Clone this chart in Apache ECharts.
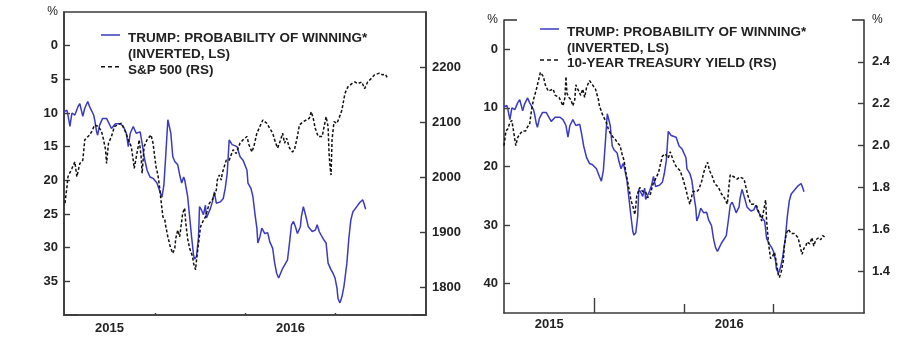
<!DOCTYPE html>
<html>
<head>
<meta charset="utf-8">
<script src="https://cdn.jsdelivr.net/npm/echarts@6/dist/echarts.min.js"></script>
<style>
  html, body { margin: 0; padding: 0; background: #fff; }
  #chart { width: 904px; height: 339px; }
</style>
</head>
<body>
<div id="chart"></div>
<script>
// Trump probability of winning (%), shown inverted
const trumpDates = ['2015-10-01','2015-10-04','2015-10-05','2015-10-07','2015-10-09','2015-10-12','2015-10-15','2015-10-17','2015-10-20','2015-10-22','2015-10-25','2015-10-27','2015-10-31',
  '2015-11-01','2015-11-03','2015-11-04','2015-11-06','2015-11-09','2015-11-13','2015-11-18','2015-11-22','2015-11-27','2015-11-30',
  '2015-12-03','2015-12-05','2015-12-07','2015-12-10','2015-12-13','2015-12-17','2015-12-19','2015-12-21','2015-12-24','2015-12-27','2015-12-30',
  '2016-01-03','2016-01-06','2016-01-08','2016-01-10','2016-01-12','2016-01-14','2016-01-17','2016-01-19','2016-01-21','2016-01-24','2016-01-26','2016-01-28','2016-01-30','2016-01-31',
  '2016-02-03','2016-02-05','2016-02-07','2016-02-09','2016-02-10','2016-02-12','2016-02-14','2016-02-15','2016-02-17','2016-02-19','2016-02-21','2016-02-22','2016-02-24','2016-02-26','2016-02-28',
  '2016-03-01','2016-03-03','2016-03-07','2016-03-10','2016-03-12','2016-03-14','2016-03-16','2016-03-19','2016-03-21','2016-03-24','2016-03-27','2016-03-30',
  '2016-04-03','2016-04-04','2016-04-07','2016-04-09','2016-04-11','2016-04-13','2016-04-14','2016-04-16','2016-04-18','2016-04-21','2016-04-24','2016-04-26','2016-04-29',
  '2016-05-01','2016-05-03','2016-05-05','2016-05-07','2016-05-09','2016-05-11','2016-05-14','2016-05-16','2016-05-18','2016-05-20','2016-05-22','2016-05-24','2016-05-27','2016-05-28','2016-05-30',
  '2016-06-02','2016-06-04','2016-06-08','2016-06-11','2016-06-13','2016-06-15','2016-06-18','2016-06-20','2016-06-22','2016-06-24','2016-06-27','2016-06-29',
  '2016-07-01','2016-07-03','2016-07-04','2016-07-06','2016-07-08','2016-07-10','2016-07-13','2016-07-15','2016-07-17','2016-07-19','2016-07-23','2016-07-26','2016-07-29','2016-07-30',
  '2016-08-01'];
const trumpVals = [9.8,9.6,10.3,12.0,10.0,10.3,9.1,8.6,10.5,9.3,8.3,9.1,10.3,
  11.0,12.8,13.3,11.8,10.8,10.8,12.3,11.6,11.6,12.0,
  13.0,15.0,13.0,12.0,13.0,12.8,14.5,16.5,18.5,19.5,19.7,
  20.4,21.7,22.5,20.7,16.0,11.0,13.0,16.5,17.2,17.7,19.2,20.4,19.5,19.9,
  22.4,25.4,28.4,31.1,31.7,31.3,28.4,23.9,24.4,25.1,23.7,25.6,24.9,24.2,23.2,
  21.7,23.4,23.2,22.7,21.2,19.0,14.0,14.7,14.5,15.0,16.5,17.0,
  18.5,20.4,21.2,22.4,24.9,27.1,29.3,28.4,27.1,27.9,27.8,29.1,30.1,
  32.3,33.8,34.5,33.8,33.1,33.3,31.8,29.3,26.6,26.1,26.9,27.9,26.9,25.4,23.9,
  25.6,26.9,27.6,27.4,26.6,27.6,28.4,28.9,29.3,32.3,33.3,33.8,
  34.5,36.0,37.5,38.2,37.3,35.8,32.3,28.6,25.9,24.7,23.9,23.3,22.9,23.3,
  24.3];

// S&P 500 index level
const spxDates = ['2015-10-02','2015-10-04','2015-10-05','2015-10-09','2015-10-12','2015-10-14','2015-10-17','2015-10-20','2015-10-22','2015-10-24','2015-10-27','2015-10-29',
  '2015-11-01','2015-11-05','2015-11-08','2015-11-10','2015-11-12','2015-11-13','2015-11-15','2015-11-18','2015-11-21','2015-11-24','2015-11-28','2015-11-30',
  '2015-12-02','2015-12-05','2015-12-08','2015-12-10','2015-12-11','2015-12-15','2015-12-16','2015-12-18','2015-12-19','2015-12-21','2015-12-24','2015-12-28','2015-12-30',
  '2016-01-02','2016-01-04','2016-01-06','2016-01-07','2016-01-09','2016-01-11','2016-01-12','2016-01-14','2016-01-16','2016-01-17','2016-01-19','2016-01-21','2016-01-22','2016-01-24','2016-01-26','2016-01-29','2016-01-31',
  '2016-02-01','2016-02-03','2016-02-05','2016-02-08','2016-02-09','2016-02-11','2016-02-12','2016-02-14','2016-02-16','2016-02-19','2016-02-21','2016-02-25','2016-02-28',
  '2016-03-03','2016-03-04','2016-03-06','2016-03-08','2016-03-09','2016-03-11','2016-03-13','2016-03-16','2016-03-20','2016-03-23','2016-03-27','2016-03-30',
  '2016-04-03','2016-04-05','2016-04-08','2016-04-10','2016-04-13','2016-04-16','2016-04-19','2016-04-23','2016-04-26','2016-04-29',
  '2016-05-02','2016-05-04','2016-05-07','2016-05-09','2016-05-11','2016-05-13','2016-05-16','2016-05-19','2016-05-21','2016-05-24','2016-05-26','2016-05-30',
  '2016-06-02','2016-06-05','2016-06-07','2016-06-09','2016-06-11','2016-06-14','2016-06-16','2016-06-18','2016-06-20','2016-06-22','2016-06-24','2016-06-25','2016-06-26','2016-06-27','2016-06-28','2016-06-30',
  '2016-07-03','2016-07-05','2016-07-08','2016-07-11','2016-07-14','2016-07-18','2016-07-21','2016-07-24','2016-07-28','2016-07-31',
  '2016-08-03','2016-08-07','2016-08-10','2016-08-12','2016-08-15','2016-08-18','2016-08-21','2016-08-23'];
const spxVals = [1953,1983,2001,2016,2028,2001,2025,2031,2068,2071,2077,2083,
  2095,2092,2083,2068,2050,2025,2062,2074,2092,2095,2098,2101,
  2083,2068,2056,2031,2016,2056,2068,2037,2007,2056,2068,2077,2062,
  2019,2004,1977,1959,1928,1922,1910,1892,1877,1871,1862,1871,1889,1904,1892,1935,1944,
  1919,1889,1871,1856,1844,1832,1850,1880,1910,1922,1928,1953,1959,
  1977,1995,2004,1995,2007,2019,2031,2031,2050,2043,2062,2068,
  2074,2059,2046,2056,2080,2092,2104,2098,2089,2080,
  2062,2053,2068,2080,2062,2071,2053,2046,2050,2074,2095,2101,
  2104,2107,2119,2107,2089,2074,2077,2074,2092,2110,2092,2043,2019,2004,2068,2101,
  2098,2107,2122,2152,2164,2170,2173,2170,2173,2161,
  2173,2180,2186,2183,2189,2186,2187,2180];

// 10-year Treasury yield (%)
const ustDates = ['2015-10-01','2015-10-03','2015-10-05','2015-10-07','2015-10-09','2015-10-12','2015-10-13','2015-10-15','2015-10-18','2015-10-20','2015-10-23','2015-10-25','2015-10-27','2015-10-29','2015-10-31',
  '2015-11-03','2015-11-05','2015-11-07','2015-11-10','2015-11-12','2015-11-15','2015-11-17','2015-11-20','2015-11-22','2015-11-26','2015-11-28','2015-11-30',
  '2015-12-02','2015-12-03','2015-12-04','2015-12-06','2015-12-08','2015-12-10','2015-12-12','2015-12-13','2015-12-15','2015-12-18','2015-12-20','2015-12-22','2015-12-24','2015-12-27','2015-12-29','2015-12-30',
  '2016-01-02','2016-01-05','2016-01-06','2016-01-09','2016-01-11','2016-01-13','2016-01-15','2016-01-17','2016-01-20','2016-01-22','2016-01-25','2016-01-27','2016-01-29','2016-01-31',
  '2016-02-01','2016-02-02','2016-02-04','2016-02-06','2016-02-07','2016-02-09','2016-02-11','2016-02-13','2016-02-16','2016-02-19','2016-02-22','2016-02-24','2016-02-27','2016-02-29',
  '2016-03-03','2016-03-06','2016-03-08','2016-03-10','2016-03-13','2016-03-16','2016-03-18','2016-03-21','2016-03-24','2016-03-26','2016-03-28','2016-03-31',
  '2016-04-03','2016-04-05','2016-04-07','2016-04-08','2016-04-10','2016-04-14','2016-04-16','2016-04-19','2016-04-21','2016-04-23','2016-04-25','2016-04-27','2016-04-30',
  '2016-05-02','2016-05-06','2016-05-09','2016-05-12','2016-05-15','2016-05-17','2016-05-18','2016-05-22','2016-05-25','2016-05-28',
  '2016-06-01','2016-06-03','2016-06-05','2016-06-08','2016-06-11','2016-06-14','2016-06-17','2016-06-19','2016-06-21','2016-06-23','2016-06-24','2016-06-26','2016-06-28','2016-06-30',
  '2016-07-02','2016-07-04','2016-07-06','2016-07-07','2016-07-09','2016-07-11','2016-07-12','2016-07-14','2016-07-16','2016-07-19','2016-07-22','2016-07-26','2016-07-28','2016-07-30',
  '2016-08-01','2016-08-03','2016-08-04','2016-08-07','2016-08-09','2016-08-11','2016-08-13','2016-08-16','2016-08-18','2016-08-20','2016-08-23'];
const ustVals = [2.00,2.07,2.08,2.11,2.12,2.03,2.00,2.04,2.06,2.07,2.07,2.09,2.10,2.17,2.22,
  2.27,2.31,2.35,2.33,2.29,2.26,2.26,2.27,2.24,2.23,2.21,2.19,
  2.23,2.33,2.25,2.23,2.22,2.19,2.22,2.29,2.27,2.24,2.27,2.23,2.28,2.31,2.31,2.29,
  2.27,2.22,2.19,2.15,2.13,2.11,2.08,2.06,2.04,2.03,2.01,2.00,1.96,1.93,
  1.90,1.87,1.82,1.77,1.74,1.71,1.67,1.76,1.80,1.78,1.78,1.75,1.77,1.81,
  1.84,1.87,1.91,1.95,1.96,1.94,1.97,1.93,1.90,1.90,1.88,1.84,
  1.79,1.75,1.72,1.74,1.78,1.78,1.79,1.83,1.87,1.90,1.92,1.88,1.85,
  1.82,1.80,1.77,1.75,1.72,1.82,1.86,1.85,1.84,1.85,
  1.84,1.80,1.76,1.72,1.72,1.71,1.67,1.64,1.69,1.74,1.64,1.53,1.46,1.47,
  1.49,1.44,1.38,1.37,1.40,1.45,1.52,1.58,1.60,1.58,1.58,1.56,1.52,1.48,
  1.51,1.52,1.54,1.53,1.56,1.52,1.55,1.56,1.55,1.57,1.56];

// Axis label sets
const leftPctLabels = [-5, 0, 5, 10, 15, 20, 25, 30, 35];
const spxLabels = [1800, 1900, 2000, 2100, 2200];
const rightPctLabels = [-5, 0, 10, 20, 30, 40];
const ustLabels = [1.4, 1.6, 1.8, 2.0, 2.2, 2.4, 2.6];

const TRUMP_NAME = 'TRUMP: PROBABILITY OF WINNING*';
const SPX_NAME = 'S&P 500 (RS)';
const UST_NAME = '10-YEAR TREASURY YIELD (RS)';

// Dates are plotted as local-time millisecond stamps on a numeric axis
const ts = (y, m, d) => new Date(y, m - 1, d).getTime();
const parseDay = s => { const p = s.split('-').map(Number); return ts(p[0], p[1], p[2]); };
const pair = (dates, vals) => dates.map((d, i) => [parseDay(d), vals[i]]);

const X_MIN = ts(2015, 10, 1), X_MAX = ts(2016, 10, 1);
const yearLabelPos = [ts(2015, 11, 16), ts(2016, 5, 17)];
const quarterTicks = [ts(2016, 1, 1), ts(2016, 4, 1), ts(2016, 7, 1)];

const FONT = 'Arial, "Liberation Sans", Helvetica, sans-serif';
const AXIS_COLOR = '#3c3c3c';
const TEXT_COLOR = '#222';
const BLUE = '#3a3ac2';

// Legend keys: the stroke sits at the top of the key box so it lines up with the first text line
const ICON_SOLID = 'path://M0,0H19V1.5H0Z M18.99,23.99H19V24H18.99Z';
const ICON_DASHED = 'path://M0,0H4V1.5H0Z M7,0H11V1.5H7Z M14,0H18V1.5H14Z M18.99,8.49H19V8.5H18.99Z';

const labelStyle = { color: TEXT_COLOR, fontFamily: FONT, fontWeight: 'bold', fontSize: 13 };
const pctRich = { p: { fontFamily: FONT, fontSize: 12, color: TEXT_COLOR, fontWeight: 'normal' } };
const axisLine = { show: true, onZero: false, lineStyle: { color: AXIS_COLOR, width: 1.6 } };

function xAxisFor(grid, tickVals, tickLen, showLine, showLabel, margin) {
  return {
    type: 'value', gridIndex: grid, position: 'bottom', min: X_MIN, max: X_MAX, scale: true,
    axisLine: Object.assign({}, axisLine, { show: showLine }),
    axisTick: { show: true, inside: true, length: tickLen, customValues: tickVals,
      lineStyle: { color: AXIS_COLOR, width: 1.4 } },
    axisLabel: Object.assign({ show: showLabel, margin: margin, customValues: yearLabelPos,
      formatter: v => String(new Date(v).getFullYear()) }, labelStyle),
    splitLine: { show: false }, minorTick: { show: false }
  };
}

function yAxisFor(opts) {
  return Object.assign({
    type: 'value',
    axisLine: axisLine,
    axisTick: { show: true, inside: true, length: 6, lineStyle: { color: AXIS_COLOR, width: 1.4 } },
    splitLine: { show: false }
  }, opts);
}

function legendFor(name, left, top, twoLine) {
  return {
    data: [name], left: left, top: top, padding: 0, orient: 'vertical',
    itemWidth: 19, itemHeight: twoLine ? 24 : 8.5, selectedMode: false,
    icon: twoLine ? ICON_SOLID : ICON_DASHED,
    formatter: twoLine ? (n => n + '\n(INVERTED, LS)') : (n => n),
    textStyle: { color: TEXT_COLOR, fontFamily: FONT, fontWeight: 'bold', fontSize: 13.5,
      lineHeight: 15.5, padding: [0, 0, 0, 3] }
  };
}

const chart = echarts.init(document.getElementById('chart'), null, { renderer: 'canvas' });

chart.setOption({
  animation: false,
  backgroundColor: '#fff',
  grid: [
    { left: 64, top: 12, width: 362, height: 303, show: true, borderColor: AXIS_COLOR, borderWidth: 1.6, backgroundColor: 'transparent' },
    { left: 504, top: 20, width: 360, height: 293 }
  ],
  legend: [
    legendFor(TRUMP_NAME, 101, 30.75, true),
    legendFor(SPX_NAME, 101, 62.45, false),
    legendFor(TRUMP_NAME, 540, 24.75, true),
    legendFor(UST_NAME, 540, 55.75, false)
  ],
  xAxis: [
    xAxisFor(0, quarterTicks, 2, true, true, 6.5),
    xAxisFor(1, [quarterTicks[0]], 15, true, true, 5),
    xAxisFor(1, quarterTicks.slice(1), 9, false, false, 5)
  ],
  yAxis: [
    // left panel, left scale (inverted %)
    yAxisFor({ gridIndex: 0, position: 'left', inverse: true, min: -5, max: 40, interval: 5,
      axisTick: { show: true, inside: true, length: 6, customValues: leftPctLabels.slice(1), lineStyle: { color: AXIS_COLOR, width: 1.4 } },
      axisLabel: Object.assign({ margin: 6, customValues: leftPctLabels, rich: pctRich,
        formatter: v => v === -5 ? '{p|%}' : String(v) }, labelStyle) }),
    // left panel, right scale (S&P 500)
    yAxisFor({ gridIndex: 0, position: 'right', min: 1750, max: 2300, interval: 50,
      axisTick: { show: true, inside: true, length: 6, customValues: spxLabels, lineStyle: { color: AXIS_COLOR, width: 1.4 } },
      axisLabel: Object.assign({ margin: 6, customValues: spxLabels, formatter: v => String(v) }, labelStyle) }),
    // corner ticks at the foot of the left panel
    yAxisFor({ gridIndex: 0, position: 'left', inverse: true, min: -5, max: 40, axisLine: { show: false, onZero: false },
      axisTick: { show: true, inside: true, length: 14, customValues: [40], lineStyle: { color: AXIS_COLOR, width: 1.6 } },
      axisLabel: { show: false } }),
    yAxisFor({ gridIndex: 0, position: 'right', min: 1750, max: 2300, axisLine: { show: false, onZero: false },
      axisTick: { show: true, inside: true, length: 14, customValues: [1750], lineStyle: { color: AXIS_COLOR, width: 1.6 } },
      axisLabel: { show: false } }),
    // right panel, left scale (inverted %)
    yAxisFor({ gridIndex: 1, position: 'left', inverse: true, min: -5, max: 45, interval: 5,
      axisTick: { show: true, inside: true, length: 6, customValues: rightPctLabels.slice(1), lineStyle: { color: AXIS_COLOR, width: 1.4 } },
      axisLabel: Object.assign({ margin: 6, customValues: rightPctLabels, rich: pctRich,
        formatter: v => v === -5 ? '{p|%}' : String(v) }, labelStyle) }),
    // right panel, right scale (10-year yield)
    yAxisFor({ gridIndex: 1, position: 'right', min: 1.2, max: 2.6, interval: 0.2,
      axisTick: { show: true, inside: true, length: 6, customValues: ustLabels.slice(0, -1), lineStyle: { color: AXIS_COLOR, width: 1.4 } },
      axisLabel: Object.assign({ margin: 8, customValues: ustLabels, rich: pctRich,
        formatter: v => Math.abs(v - 2.6) < 1e-9 ? '{p|%}' : v.toFixed(1) }, labelStyle) }),
    // top ticks of the right panel
    yAxisFor({ gridIndex: 1, position: 'left', inverse: true, min: -5, max: 45, axisLine: { show: false, onZero: false },
      axisTick: { show: true, inside: true, length: 13, customValues: [-5], lineStyle: { color: AXIS_COLOR, width: 1.6 } },
      axisLabel: { show: false } }),
    yAxisFor({ gridIndex: 1, position: 'right', min: 1.2, max: 2.6, axisLine: { show: false, onZero: false },
      axisTick: { show: true, inside: true, length: 12, customValues: [2.6], lineStyle: { color: AXIS_COLOR, width: 1.6 } },
      axisLabel: { show: false } })
  ],
  series: [
    { name: TRUMP_NAME, type: 'line', xAxisIndex: 0, yAxisIndex: 0, data: pair(trumpDates, trumpVals),
      symbol: 'none', lineStyle: { color: BLUE, width: 1.5 }, itemStyle: { color: BLUE }, z: 3 },
    { name: SPX_NAME, type: 'line', xAxisIndex: 0, yAxisIndex: 1, data: pair(spxDates, spxVals),
      symbol: 'none', lineStyle: { color: '#111', width: 1.5, type: [3, 2] }, itemStyle: { color: '#111' }, z: 4 },
    { name: TRUMP_NAME, type: 'line', xAxisIndex: 1, yAxisIndex: 4, data: pair(trumpDates, trumpVals),
      symbol: 'none', lineStyle: { color: BLUE, width: 1.5 }, itemStyle: { color: BLUE }, z: 3 },
    { name: UST_NAME, type: 'line', xAxisIndex: 1, yAxisIndex: 5, data: pair(ustDates, ustVals),
      symbol: 'none', lineStyle: { color: '#111', width: 1.5, type: [3, 2] }, itemStyle: { color: '#111' }, z: 4 }
  ]
});
</script>
</body>
</html>
